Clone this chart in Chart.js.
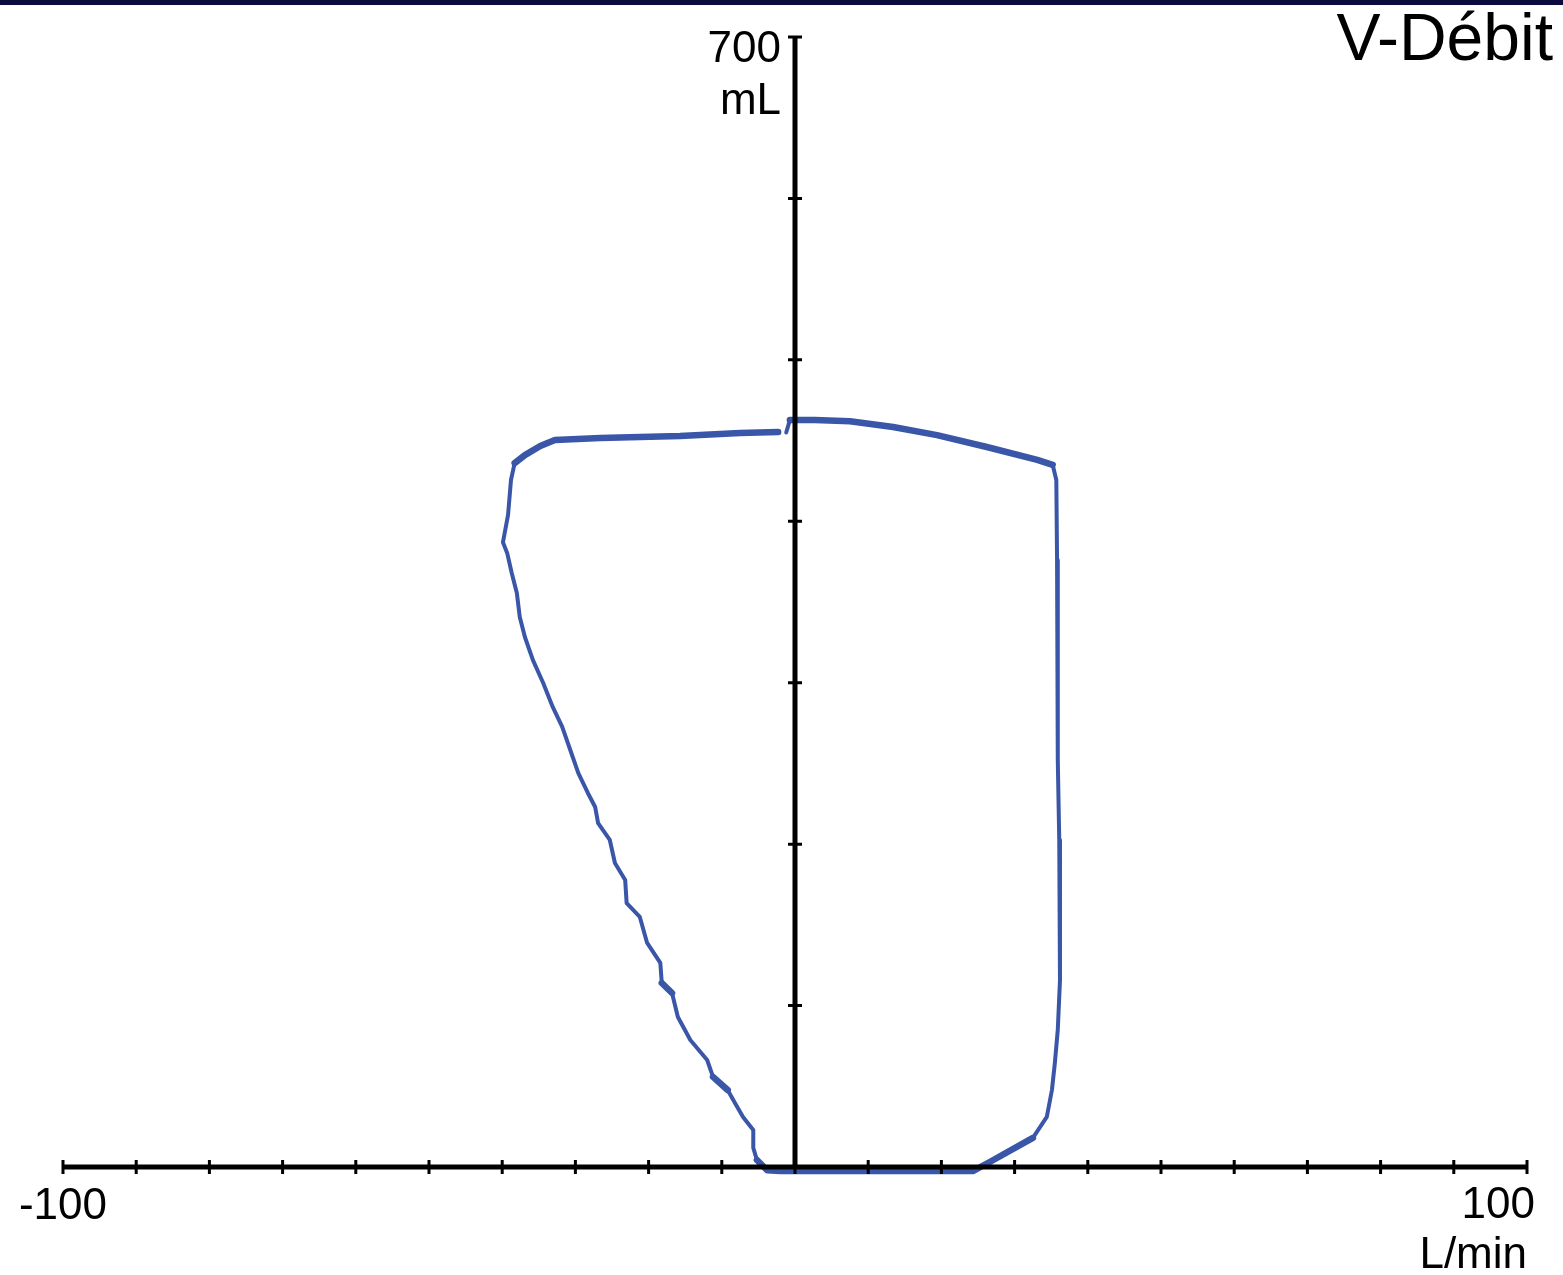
<!DOCTYPE html>
<html>
<head>
<meta charset="utf-8">
<title>V-Débit</title>
<script src="https://cdn.jsdelivr.net/npm/chart.js@4.4.0/dist/chart.umd.min.js"></script>
<style>
  html, body { margin: 0; padding: 0; background: #fff; }
  #wrap { position: relative; width: 1563px; height: 1275px; overflow: hidden; }
  #band { position: absolute; left: 0; top: 0; width: 1563px; height: 5px; background: #0b0a3e; }
  canvas { display: block; }
</style>
</head>
<body>
<div id="wrap">
  <canvas id="loop-chart" width="1563" height="1275"></canvas>
  <div id="band"></div>
</div>
<script>
// flow (L/min) and volume (mL) samples of one breath loop
let flow = [
  -1.2, -0.7, 2.7, 7.5, 13.4, 19.4, 26.2, 33.1, 35.2, 35.7, 35.8, 35.9, 35.9, 36.1, 36.2, 36.2,
  35.9, 35.5, 35.1, 34.4, 32.5, 26.6, 24.3, 14.3, 4.8, 0, -2.0, -3.8, -5.2, -5.7, -5.7, -7.1,
  -8.2, -9.2, -11.2, -12.0, -14.3, -16.0, -16.8, -18.2, -18.4, -20.2, -21.2, -23.0, -23.2, -24.6,
  -25.3, -26.9, -27.3, -28.3, -29.6, -30.7, -31.8, -33.1, -34.4, -35.8, -36.9, -37.6, -38.0,
  -38.7, -39.3, -39.9, -39.2, -38.8, -38.3, -36.9, -34.8, -32.8, -26.6, -15.7, -7.5, -2.3
];
let volume = [
  455, 462.7, 462.7, 462, 458.4, 453.4, 446, 438, 435, 425.6, 376, 320, 252, 202.6, 165, 115.8,
  85, 64.4, 47.7, 31, 18, 3.1, -2.5, -2.5, -2.5, -2.5, -2.5, -2.0, 4.3, 11.8, 22.9, 31,
  39.6, 47.7, 55.8, 66.3, 78.7, 92.9, 107.8, 114, 126.4, 138.8, 154.9, 163.5, 177.8, 188.3,
  202.6, 213, 223, 231.7, 244, 258.3, 272.6, 285, 299.8, 314, 328.3, 340.7, 355.6,
  368, 380, 387, 404, 425.6, 436, 441, 446.6, 450.4, 451.6, 452.8, 454.7, 455.3
];

let xTicks = [-100, -90, -80, -70, -60, -50, -40, -30, -20, -10, 0, 10, 20, 30, 40, 50, 60, 70, 80, 90, 100];
let yTicks = [0, 100, 200, 300, 400, 500, 600, 700];
let xMinLabel = "-100";
let xMaxLabel = "100";
let yMaxLabel = "700";
let xUnit = "L/min";
let yUnit = "mL";
let title = "V-Débit";

const FONT = '"Liberation Sans", Arial, sans-serif';

// black cross axes with tick marks, labels and title
const crossAxes = {
  id: "crossAxes",
  afterDatasetsDraw(chart) {
    const ctx = chart.ctx;
    const xs = chart.scales.x;
    const ys = chart.scales.y;
    const x0 = xs.getPixelForValue(0);
    const y0 = ys.getPixelForValue(0);
    const xl = xs.getPixelForValue(xTicks[0]);
    const xr = xs.getPixelForValue(xTicks[xTicks.length - 1]);
    const yt = ys.getPixelForValue(yTicks[yTicks.length - 1]);

    ctx.save();
    ctx.strokeStyle = "#000";
    ctx.lineCap = "butt";

    ctx.lineWidth = 5;
    ctx.beginPath();
    ctx.moveTo(xl, y0);
    ctx.lineTo(xr, y0);
    ctx.moveTo(x0, y0);
    ctx.lineTo(x0, yt);
    ctx.stroke();

    ctx.lineWidth = 3;
    ctx.beginPath();
    xTicks.forEach((v) => {
      const px = xs.getPixelForValue(v);
      ctx.moveTo(px, y0 - 7);
      ctx.lineTo(px, y0 + 7);
    });
    yTicks.forEach((v) => {
      const py = ys.getPixelForValue(v);
      ctx.moveTo(x0 - 7, py);
      ctx.lineTo(x0 + 7, py);
    });
    ctx.stroke();

    ctx.fillStyle = "#000";
    ctx.font = "44px " + FONT;
    ctx.textBaseline = "alphabetic";

    ctx.textAlign = "right";
    ctx.fillText(yMaxLabel, x0 - 14, yt + 25);
    ctx.fillText(yUnit, x0 - 14, yt + 77);

    ctx.textAlign = "center";
    ctx.fillText(xMinLabel, xl, y0 + 52);

    ctx.textAlign = "right";
    ctx.fillText(xMaxLabel, xr + 8, y0 + 51);
    ctx.fillText(xUnit, xr, y0 + 101);

    ctx.font = "66px " + FONT;
    ctx.fillText(title, 1553, 60);
    ctx.restore();
  },
};

new Chart(document.getElementById("loop-chart").getContext("2d"), {
  type: "scatter",
  data: {
    datasets: [
      {
        label: title,
        data: flow.map((f, i) => ({ x: f, y: volume[i] })),
        showLine: true,
        clip: false,
        borderColor: "#3a56a8",
        backgroundColor: "#3a56a8",
        borderWidth: 4,
        borderJoinStyle: "round",
        borderCapStyle: "round",
        pointRadius: 0,
        tension: 0,
        segment: {
          // flat runs of the trace render heavier than steep ones
          borderWidth: (ctx) =>
            Math.abs(ctx.p1.x - ctx.p0.x) > Math.abs(ctx.p1.y - ctx.p0.y) ? 6.5 : 4,
        },
      },
    ],
  },
  options: {
    responsive: false,
    animation: false,
    layout: {
      padding: { left: 63, right: 36, top: 37, bottom: 108 },
    },
    scales: {
      x: { type: "linear", min: -100, max: 100, display: false },
      y: { type: "linear", min: 0, max: 700, display: false },
    },
    plugins: {
      legend: { display: false },
      tooltip: { enabled: false },
    },
  },
  plugins: [crossAxes],
});
</script>
</body>
</html>
